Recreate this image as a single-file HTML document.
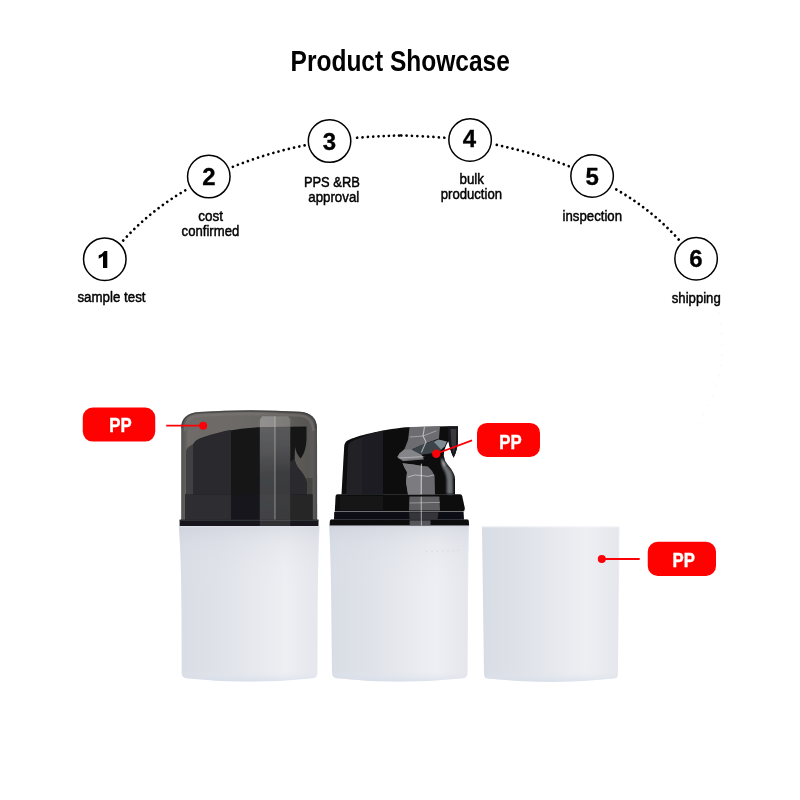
<!DOCTYPE html>
<html>
<head>
<meta charset="utf-8">
<title>Product Showcase</title>
<style>
  html, body { margin: 0; padding: 0; background: #ffffff; }
  body { width: 800px; height: 800px; overflow: hidden; font-family: "Liberation Sans", sans-serif; }
  svg { display: block; }
  text { font-family: "Liberation Sans", sans-serif; }
  .lbl { font-size: 15.4px; fill: #000; stroke: #000; stroke-width: 0.5px; }
  .num { font-size: 24px; font-weight: bold; fill: #000; text-anchor: middle; stroke: #000; stroke-width: 0.3px; }
  .pp  { font-size: 20.5px; font-weight: bold; fill: #fff; stroke: #fff; stroke-width: 0.45px; }
</style>
</head>
<body>
<svg width="800" height="800" viewBox="0 0 800 800">
  <defs>
    <!-- DEFS -->
    <linearGradient id="bodyH" x1="0" y1="0" x2="1" y2="0">
      <stop offset="0" stop-color="#d6dae3"/>
      <stop offset="0.03" stop-color="#d9dde5"/>
      <stop offset="0.3" stop-color="#dfe2e9"/>
      <stop offset="0.55" stop-color="#e7e9ee"/>
      <stop offset="0.76" stop-color="#eeeff3"/>
      <stop offset="0.92" stop-color="#e8e9ee"/>
      <stop offset="0.985" stop-color="#e6e7ed"/>
      <stop offset="1" stop-color="#eeeff3"/>
    </linearGradient>
    <linearGradient id="bodyV" x1="0" y1="0" x2="0" y2="1">
      <stop offset="0" stop-color="#b9bdcb" stop-opacity="0.55"/>
      <stop offset="0.012" stop-color="#c9ccd8" stop-opacity="0.45"/>
      <stop offset="0.12" stop-color="#d5d8e2" stop-opacity="0.25"/>
      <stop offset="0.4" stop-color="#e6e9ee" stop-opacity="0"/>
      <stop offset="0.93" stop-color="#e6e9ee" stop-opacity="0"/>
      <stop offset="1" stop-color="#d3dcea" stop-opacity="0.7"/>
    </linearGradient>
    <linearGradient id="cupV" x1="0" y1="0" x2="0" y2="1">
      <stop offset="0" stop-color="#ffffff" stop-opacity="0.35"/>
      <stop offset="0.008" stop-color="#ffffff" stop-opacity="0.2"/>
      <stop offset="0.012" stop-color="#e6e9ee" stop-opacity="0"/>
      <stop offset="0.93" stop-color="#e6e9ee" stop-opacity="0"/>
      <stop offset="1" stop-color="#d3dcea" stop-opacity="0.7"/>
    </linearGradient>
    <filter id="soft" x="-5%" y="-5%" width="110%" height="110%"><feGaussianBlur stdDeviation="0.45"/></filter>
    <filter id="soft2" x="-10%" y="-10%" width="120%" height="120%"><feGaussianBlur stdDeviation="0.8"/></filter>
    <linearGradient id="stripeV" x1="0" y1="0" x2="0" y2="1">
      <stop offset="0" stop-color="#ffffff" stop-opacity="0.29"/>
      <stop offset="0.25" stop-color="#ffffff" stop-opacity="0.25"/>
      <stop offset="0.5" stop-color="#ffffff" stop-opacity="0.17"/>
      <stop offset="1" stop-color="#ffffff" stop-opacity="0.15"/>
    </linearGradient>
    <linearGradient id="neckH" x1="0" y1="0" x2="1" y2="0">
      <stop offset="0" stop-color="#08090a"/>
      <stop offset="0.7" stop-color="#38393c"/>
      <stop offset="1" stop-color="#1a1b1d"/>
    </linearGradient>
    <linearGradient id="capH" x1="0" y1="0" x2="1" y2="0">
      <stop offset="0" stop-color="#555453"/>
      <stop offset="0.035" stop-color="#636160"/>
      <stop offset="0.05" stop-color="#6f6c69"/>
      <stop offset="0.55" stop-color="#6b6865"/>
      <stop offset="0.82" stop-color="#5d5b58"/>
      <stop offset="0.93" stop-color="#595755"/>
      <stop offset="0.97" stop-color="#5c5a59"/>
      <stop offset="1" stop-color="#4c4b4b"/>
    </linearGradient>
  </defs>
  <rect x="0" y="0" width="800" height="800" fill="#ffffff"/>
  <g opacity="0.999">

  <!-- ===== Title ===== -->
  <text x="290.6" y="70.6" font-size="29.2" font-weight="bold" fill="#000" textLength="219.2" lengthAdjust="spacingAndGlyphs">Product Showcase</text>

  <!-- ===== Dotted arcs ===== -->
  <g fill="none" stroke="#000" stroke-width="2.75" stroke-linecap="round">
    <path pathLength="15.01" stroke-dasharray="0.001 0.999" d="M123.2,240.5 Q149.95,211 185.3,190.3"/>
    <path pathLength="14.01" stroke-dasharray="0.001 0.999" d="M232.9,166.8 Q267.4,152.9 304.65,145.4"/>
    <path pathLength="8.01" stroke-dasharray="0.001 0.999" d="M357.1,137.75 Q378.9,135.9 399.1,135.5"/>
    <path pathLength="8.01" stroke-dasharray="0.001 0.999" d="M401.3,135.5 Q421.6,135.9 444.4,137.75"/>
    <path pathLength="14.01" stroke-dasharray="0.001 0.999" d="M496.8,144.96 Q534,152.8 568.8,166.2"/>
    <path pathLength="15.01" stroke-dasharray="0.001 0.999" d="M616.3,189.5 Q651.5,209.6 678.7,239.5"/>
  </g>

  <!-- ===== Circles ===== -->
  <g fill="#fff" stroke="#000" stroke-width="1.5">
    <circle cx="104.8" cy="259.15" r="21.25"/>
    <circle cx="208.8" cy="176.6" r="21.25"/>
    <circle cx="329.55" cy="141.1" r="21.25"/>
    <circle cx="470.1" cy="139.95" r="21.25"/>
    <circle cx="592.1" cy="175.95" r="21.25"/>
    <circle cx="696.1" cy="258.8" r="21.25"/>
  </g>

  <!-- ===== Numbers ===== -->
  <path d="M107.3,251 L107.3,268.1 L103,268.1 L103,256 Q101.2,257.8 98.7,258.7 L98.7,255.3 Q102.7,253.9 104.5,251 Z" fill="#000"/>
  <text class="num" x="208.90" y="185.0">2</text>
  <text class="num" x="329.38" y="150.0">3</text>
  <text class="num" x="469.45" y="147.2">4</text>
  <text class="num" x="592.20" y="185.0">5</text>
  <text class="num" x="696.03" y="267.0">6</text>

  <!-- ===== Step labels ===== -->
  <text class="lbl" x="77.40" y="302.0" textLength="68.10" lengthAdjust="spacingAndGlyphs">sample test</text>
  <text class="lbl" x="198.25" y="220.8" textLength="24.75" lengthAdjust="spacingAndGlyphs">cost</text>
  <text class="lbl" x="181.60" y="236.0" textLength="57.65" lengthAdjust="spacingAndGlyphs">confirmed</text>
  <text class="lbl" x="303.90" y="186.7" textLength="56.00" lengthAdjust="spacingAndGlyphs">PPS &amp;RB</text>
  <text class="lbl" x="308.25" y="201.7" textLength="51.00" lengthAdjust="spacingAndGlyphs">approval</text>
  <text class="lbl" x="459.50" y="183.8" textLength="24.50" lengthAdjust="spacingAndGlyphs">bulk</text>
  <text class="lbl" x="440.75" y="198.6" textLength="61.25" lengthAdjust="spacingAndGlyphs">production</text>
  <text class="lbl" x="562.60" y="221.0" textLength="59.40" lengthAdjust="spacingAndGlyphs">inspection</text>
  <text class="lbl" x="671.75" y="302.5" textLength="49.00" lengthAdjust="spacingAndGlyphs">shipping</text>

  <!-- faint ghost continuation of arc (barely visible in source) -->
  <path d="M719.5,313 C723.5,340 723.5,362 718,380 C713,398 705,414 696.75,426" fill="none" stroke="#000" stroke-opacity="0.03" stroke-width="2.2" stroke-linecap="round" stroke-dasharray="0.01 10.5"/>

  <!-- ===== BOTTLES ===== -->
  <!-- BOTTLE1 -->
  <g id="bottle1" filter="url(#soft)">
    <!-- white body -->
    <path id="b1body" d="M178.8,526 L319.5,526 C318.6,548 317.8,580 317.6,620 L317.4,673 Q317.3,677.6 312.8,678.2 Q249.6,685 186.2,678.2 Q181.8,677.6 181.7,673 L181.5,610 C181.3,575 180.6,548 178.8,526 Z" fill="url(#bodyH)"/>
    <path d="M178.8,526 L319.5,526 C318.6,548 317.8,580 317.6,620 L317.4,673 Q317.3,677.6 312.8,678.2 Q249.6,685 186.2,678.2 Q181.8,677.6 181.7,673 L181.5,610 C181.3,575 180.6,548 178.8,526 Z" fill="url(#bodyV)"/>
    <!-- smoke cap -->
    <path d="M181.2,520 L181.2,428 C181.2,418 187,413 199,412 Q249,408.6 300,411.8 C311,412.8 316.6,418 317,428 L317.2,520 Z" fill="url(#capH)"/>
    <!-- top rim (dark line + lighter band) -->
    <path d="M181.9,428 C181.9,418.6 187.4,413.7 199,412.7 Q249,409.3 300,412.5 C310.6,413.5 315.9,418.6 316.3,428" fill="none" stroke="#3c3b3b" stroke-width="1.5" opacity="0.7"/>
    <path d="M185,431 C185,421.4 189.6,416.6 199.4,415.7 Q249,412.4 299.6,415.5 C308.4,416.4 313,421.4 313.4,431" fill="none" stroke="#7b7773" stroke-width="2.6" opacity="0.5"/>
    <!-- gap between wall and actuator -->
    <path d="M186,452 Q186,447 193.5,444 L193.5,495 L186,495 Z" fill="#414143"/>
    <rect x="306" y="478" width="6.5" height="17" fill="#454443"/>
    <!-- actuator seen through cap -->
    <path d="M193,495 L193,446 Q193.5,441 200,438.5 C215,433 235,428.6 258,427.2 L306.5,426.6 L306.5,438 C306.5,447 304,455 300.5,458.5 C297.5,455 295.6,451 295,446.5 L294.6,458 Q295,464 299,469 Q305,475 306.5,482 L306.5,495 Z" fill="#141518"/>
    <path d="M193,495 L193,446 Q193.5,441 200,438.5 C212,434 222,431.5 231,430 L231,495 Z" fill="#292a2e"/>
    <!-- neck lighter -->
    <path d="M290.5,462 L294.6,458 Q295,464 299,469 Q305,475 306.5,482 L306.5,495 L290.5,495 Z" fill="#2c2c2e"/>
    <!-- collar band -->
    <path d="M185,494.5 L312.5,494.5 L312.5,520 L185,520 Z" fill="#17181b"/>
    <path d="M185,494.5 L231,494.5 L231,520 L185,520 Z" fill="#2e2f32"/>
    <path d="M290.3,494.5 L312.5,494.5 L312.5,520 L290.3,520 Z" fill="#262628"/>
    <!-- reflection stripe -->
    <path d="M259.8,420 L262,416.2 L288.2,416.2 L290.3,419.6 L290.3,427 L259.8,427.2 Z" fill="#ffffff" opacity="0.19"/>
    <path d="M259.8,427.2 L290.3,427 L290.3,520 L259.8,520 Z" fill="url(#stripeV)"/>
    <path d="M259.8,420 L262,416.2 L274.7,416.2 L274.7,427.2 L259.8,427.2 Z" fill="#ffffff" opacity="0.11"/>
    <path d="M259.8,427.2 L274.7,427.2 L274.7,520 L259.8,520 Z" fill="#ffffff" opacity="0.045"/>
    <rect x="274.4" y="416.2" width="1.1" height="104" fill="#dcd6cc" opacity="0.5"/>
    <!-- black ring -->
    <rect x="179.6" y="519.7" width="138.9" height="6.6" fill="#16171a"/>
    <rect x="179.6" y="519.7" width="138.9" height="1.2" fill="#3a3b3e" opacity="0.8"/>
    <rect x="259.8" y="519.7" width="30.5" height="6.6" fill="#ffffff" opacity="0.12"/>
    <rect x="179" y="526" width="140" height="1.3" fill="#e4e7f0" opacity="0.9"/>
  </g>
  <!-- BOTTLE2 -->
  <g id="bottle2" filter="url(#soft)">
    <!-- white body -->
    <path d="M329.3,525.4 L469,525.4 C468.5,550 468.1,590 468,620 L467.6,673 Q467.5,677.6 463,678.2 Q399.6,685 336.4,678.2 Q332.2,677.6 332,673 L331.4,620 C331.2,585 330.6,555 329.3,525.4 Z" fill="url(#bodyH)"/>
    <path d="M329.3,525.4 L469,525.4 C468.5,550 468.1,590 468,620 L467.6,673 Q467.5,677.6 463,678.2 Q399.6,685 336.4,678.2 Q332.2,677.6 332,673 L331.4,620 C331.2,585 330.6,555 329.3,525.4 Z" fill="url(#bodyV)"/>
    <!-- base ring / lower ring / collar -->
    <path d="M329.6,525.6 L329.9,521 Q330.1,519.6 331.6,519.6 L467,519.6 Q468.6,519.6 468.8,521 L469.1,525.6 Z" fill="#0b0c0e"/>
    <path d="M334,519.8 L334.2,512 L463.6,512 L464,519.8 Z" fill="#101113"/>
    <path d="M334.8,511.6 L335.6,496 Q335.8,494.2 337.6,494.2 L460,494.2 Q461.8,494.2 462.2,496 L464.8,508 Q465,511.6 462,511.6 Z" fill="#0a0b0d"/>
    <rect x="334.8" y="510.8" width="129.5" height="1.1" fill="#46474a" opacity="0.4"/>
    <rect x="331" y="519.2" width="136.5" height="1" fill="#3a3b3e" opacity="0.4"/>
    <!-- actuator -->
    <path d="M341.5,494.6 L344.2,446.4 Q344.5,441.9 348,440.2 C357,435.8 380,430 406,427.2 L447,426.3 L458,426.3 L458,440 Q457.6,450 453.6,457.8 Q450.6,452 448.4,441 L446.2,445 Q443.4,451 443.8,456 Q444.6,461 447.5,464.5 Q451.5,469 453.4,473 Q455,476 455,479 L455,494.6 Z" fill="#08090a"/>
    <!-- neck right-side soft highlight -->
    <g filter="url(#soft2)">
      <path d="M441.6,459 Q444.4,463.6 447.6,466.6 Q451.6,470.6 452.8,475 L453,494 L446.6,494 L446.6,480 Q446,473 442.6,468 Q440.6,464 441.6,459 Z" fill="#6c6f73"/>
      <path d="M441.4,457 Q443.4,461.4 446,464 L444,466.4 Q441,462 441.4,457 Z" fill="#b4b7ba"/>
    </g>
    <!-- dim reflection on the left face -->
    <path d="M346.2,494.6 L348,446.6 Q348.4,443 351.6,441.4 C360,437.4 371,433.6 383,430.8 L383,494.6 Z" fill="#222327"/>
    <path d="M362,494.6 L362,437.2 C368,435 376,432.6 383,430.8 L383,494.6 Z" fill="#1d1e21"/>
    <!-- collar left dim -->
    <path d="M340,496 L383,496 L383,510.6 L339.4,510.6 Z" fill="#121316"/>
    <!-- nozzle body (slightly lighter) -->
    <path d="M447.6,426.6 L458,426.6 L458,440 Q457.6,450 453.6,457.6 Q450.6,452 448.4,441 Z" fill="#17181a"/>
    <path d="M450.4,429 L456.4,429 L456,444 L453.8,453 L451.4,444 Z" fill="#3b3c40" opacity="0.9"/>
    <!-- upper grey reflection -->
    <g filter="url(#soft)">
      <path d="M409.6,426.9 L440,426.5 L439,438.4 L428,442.6 L411.6,449.6 L421.4,454.6 L424,459.4 L403,461.2 L397,457 L399.4,453.6 L404.5,449 L408,440 Z" fill="#6d6d71"/>
      <!-- lighter band at bottom of upper patch -->
      <path d="M399.4,453.6 L404.5,449.4 L411.6,449.6 L421.4,454.6 L423.6,458.2 L403.4,460 L398,457 Z" fill="#858589"/>
      <!-- slate underside wedge -->
      <path d="M411.6,449.6 L428,442.6 L438.4,439.4 L447,441.4 L444.6,446.6 L440,451.6 L432,453.2 L421.4,454.8 Z" fill="#3d444b"/>
      <path d="M434,442 L438.4,439.6 L446.8,441.5 L444.6,446.4 L441,449.6 Z" fill="#7f8b93"/>
      <!-- lower grey reflection -->
      <path d="M402.5,463.2 L428,466.6 Q432.6,470.6 434.6,476 L435,494.4 L408,494.4 L406,482 L407,472 Q404.4,468 402.5,463.2 Z" fill="#6a6a6e"/>
      <path d="M402.5,463.2 L414,464.6 L420.6,466 L420.6,494.4 L408,494.4 L406,482 L407,472 Q404.4,468 402.5,463.2 Z" fill="#7c7c80"/>
    </g>
    <!-- collar / ring reflections -->
    <path d="M409.4,496.6 L439.4,496.6 L440,510.4 L409,510.4 Z" fill="#5e5e62"/>
    <path d="M409,512.2 L438.4,512.2 L437.6,519 L409.6,519 Z" fill="#36363a"/>
    <path d="M409.6,520.4 L430.5,520.4 L430.5,525.2 L409.6,525.2 Z" fill="#55555a"/>
    <!-- bright specular lines -->
    <g fill="none" stroke="#ffffff" stroke-linecap="round" stroke-linejoin="round">
      <path d="M424.4,427.4 L423,436 L426,442 L421.6,452" stroke-width="1.1" opacity="0.55"/>
      <path d="M410,437 L423,436 L436,431" stroke-width="0.9" opacity="0.4"/>
      <path d="M421.4,464 L421.2,494" stroke-width="1.2" opacity="0.6"/>
      <path d="M408,477 Q415,473.6 421.2,475.6 Q428,477.6 434,475" stroke-width="1" opacity="0.45"/>
      <path d="M421.2,497 L421.4,525" stroke-width="1.1" opacity="0.5"/>
      <path d="M410,503 L439.6,502.4" stroke-width="0.9" opacity="0.4"/>
      <path d="M398.6,458 L424,456.6" stroke-width="1" opacity="0.35"/>
    </g>
    <!-- tiny embossed dots on body -->
    <g fill="#d6d9e1" opacity="0.8">
      <circle cx="426.6" cy="551.40" r="0.85"/><circle cx="431.9" cy="551.22" r="0.85"/><circle cx="437.3" cy="551.04" r="0.85"/><circle cx="442.5" cy="550.86" r="0.85"/><circle cx="447.9" cy="550.68" r="0.85"/><circle cx="453.1" cy="550.50" r="0.85"/><circle cx="458.1" cy="550.32" r="0.85"/>
    </g>
  </g>
  <!-- CUP -->
  <g id="cup" filter="url(#soft)">
    <path d="M482,526.4 L619.6,526.4 L617.9,674 Q617.8,678 614,678.6 Q551,685.5 487.6,678.6 Q484.2,678 484,674 Z" fill="url(#bodyH)"/>
    <path d="M482,526.4 L619.6,526.4 L617.9,674 Q617.8,678 614,678.6 Q551,685.5 487.6,678.6 Q484.2,678 484,674 Z" fill="url(#cupV)"/>
  </g>

  <!-- ===== PP tags ===== -->
  <g>
    <rect x="82.75" y="407.6" width="72.5" height="34" rx="10" ry="10" fill="#fe0000"/>
    <text class="pp" x="109.3" y="432.2" textLength="22.4" lengthAdjust="spacingAndGlyphs">PP</text>
    <line x1="166.2" y1="425.6" x2="203.1" y2="425.6" stroke="#fb0007" stroke-width="1.8"/>
    <circle cx="203.2" cy="425.7" r="4" fill="#fb0007"/>

    <rect x="477" y="422.9" width="63" height="34" rx="10" ry="10" fill="#fe0000"/>
    <text class="pp" x="499.3" y="448.7" textLength="22.4" lengthAdjust="spacingAndGlyphs">PP</text>
    <line x1="472" y1="440.4" x2="436.25" y2="453.75" stroke="#fb0007" stroke-width="1.8"/>
    <circle cx="436.25" cy="453.75" r="4.2" fill="#fb0007"/>

    <rect x="647.75" y="541.7" width="68.25" height="34.3" rx="10" ry="10" fill="#fe0000"/>
    <text class="pp" x="672.5" y="567.2" textLength="22.4" lengthAdjust="spacingAndGlyphs">PP</text>
    <line x1="601.8" y1="559" x2="639.7" y2="559" stroke="#fb0007" stroke-width="1.8"/>
    <circle cx="601.8" cy="559" r="4" fill="#fb0007"/>
  </g>
  </g>
</svg>
</body>
</html>
